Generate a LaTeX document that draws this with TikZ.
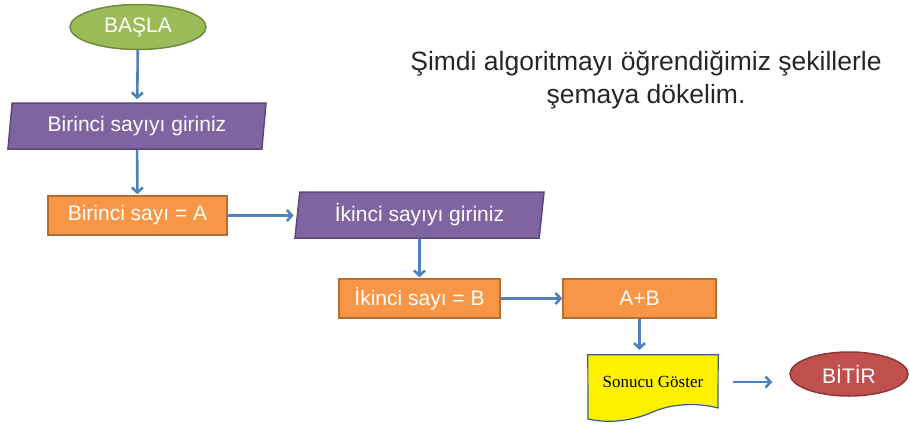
\documentclass[tikz,border=0pt]{standalone}
\usepackage{fontspec}
\setmainfont{Liberation Sans}
\newfontfamily\timesfont{Liberation Serif}
\usetikzlibrary{shapes.geometric,arrows.meta,backgrounds}

\definecolor{startgreen}{HTML}{9BBB59}
\definecolor{startgreenline}{HTML}{71893F}
\definecolor{inpurple}{HTML}{8064A2}
\definecolor{inpurpleline}{HTML}{5C4776}
\definecolor{procorange}{HTML}{F79646}
\definecolor{procorangeline}{HTML}{B66D31}
\definecolor{endred}{HTML}{C0504D}
\definecolor{endredline}{HTML}{8C3836}
\definecolor{flowblue}{HTML}{4F81BD}
\definecolor{docline}{HTML}{385D8A}
\definecolor{titlegray}{HTML}{262626}

\begin{document}
\begin{tikzpicture}[x=1pt,y=-1pt,
  every node/.style={font=\fontsize{21}{24}\selectfont, text=white, inner sep=0pt},
  terminal/.style={ellipse, line width=1.5pt},
  inbox/.style={trapezium, trapezium left angle=78, trapezium right angle=102,
    trapezium stretches body, fill=inpurple, draw=inpurpleline, line width=1.5pt,
    minimum height=46pt},
  procbox/.style={rectangle, fill=procorange, draw=procorangeline, line width=1.5pt,
    minimum height=39pt},
  flow/.style={draw=flowblue, line width=2.6pt, -{Straight Barb[length=5pt,width=11pt]}}]
\useasboundingbox (0,0) rectangle (910,423);

% baslangic
\node[terminal, fill=startgreen, draw=startgreenline, minimum width=136pt, minimum height=45pt] (start) at (138,27) {BAŞLA};

% girisler ve islemler
\node[inbox, minimum width=258pt] (readA) at (137,126) {Birinci sayıyı giriniz};
\node[procbox, minimum width=179pt] (setA) at (137.5,215.5) {Birinci sayı = A};
\node[inbox, minimum width=249pt] (readB) at (419.5,215) {İkinci sayıyı giriniz};
\node[procbox, minimum width=161pt] (setB) at (419.5,298.5) {İkinci sayı = B};
\node[procbox, minimum width=153pt] (sum) at (639.5,298.5) {A+B};

% sonuc (belge sekli)
\node[text=black, font=\timesfont\fontsize{17}{20}\selectfont, minimum width=130pt, minimum height=54pt] (show) at (653,382) {Sonucu Göster};
\begin{pgfonlayer}{background}
\draw[fill=yellow, draw=docline, line width=1.2pt] (show.north west) -- (show.north east) -- (718,408)
  .. controls (700,403) and (675,403) .. (655,411)
  .. controls (640,418) and (615,425) .. (588,419) -- cycle;
\end{pgfonlayer}

% bitis
\node[terminal, fill=endred, draw=endredline, minimum width=118pt, minimum height=44pt] (finish) at (849,374) {BİTİR};

% baslik
\node[text=titlegray, font=\fontsize{26.5}{33}\selectfont, align=center] (title) at (646,80)
  {Şimdi algoritmayı öğrendiğimiz şekillerle\\şemaya dökelim.};

% oklar
\draw[flow, shorten >=3pt] (start) -- (readA);
\draw[flow, shorten >=1pt] (readA) -- (setA);
\draw[flow, shorten >=3pt] (setA) -- (setA -| readB.west);
\draw[flow, shorten >=1pt] (readB) -- (setB);
\draw[flow] (setB) -- (sum);
\draw[flow, shorten >=5pt] (sum) -- (sum |- show.north);
\draw[flow, shorten <=15pt, shorten >=17pt] (show.east) -- (show.east -| finish.west);
\end{tikzpicture}
\end{document}
